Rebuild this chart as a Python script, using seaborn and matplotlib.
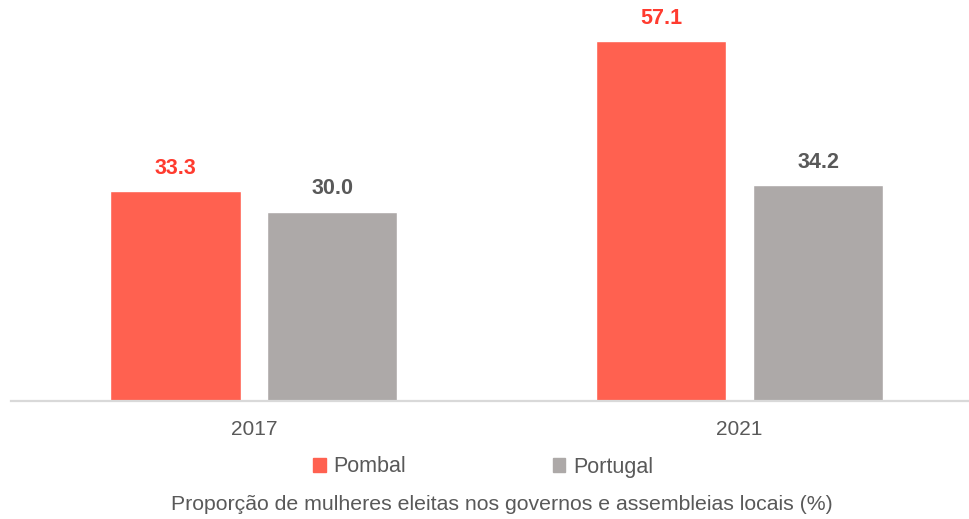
import matplotlib
matplotlib.use("Agg")
import matplotlib.pyplot as plt
import seaborn as sns
import pandas as pd

years = ["2017", "2021"]
regions = ["Pombal", "Portugal"]
pombal = [33.3, 57.1]
portugal = [30.0, 34.2]

colors = {"Pombal": "#FF6150", "Portugal": "#ADA9A8"}
label_colors = {"Pombal": "#FF3B2F", "Portugal": "#595959"}

df = pd.DataFrame({
    "ano": years * 2,
    "regiao": ["Pombal"] * len(years) + ["Portugal"] * len(years),
    "valor": pombal + portugal,
})

sns.set_theme(style="white")
plt.rcParams["font.family"] = ["Liberation Sans", "DejaVu Sans"]

fig = plt.figure(figsize=(9.69, 5.19), dpi=100)
ax = fig.add_axes([11 / 969, 118.5 / 519, 957 / 969, 390 / 519])

sns.barplot(data=df, x="ano", y="valor", hue="regiao", hue_order=regions,
            palette=colors, width=0.646, gap=0.17, ax=ax, legend=False,
            saturation=1, errorbar=None)

ax.set_xlim(-0.5, 1.47)
ax.set_ylim(0, 62)

for cont, reg in zip(ax.containers, regions):
    ax.bar_label(cont, labels=[f"{v:.1f}" for v in cont.datavalues],
                 padding=9, color=label_colors[reg], fontsize=15.5,
                 fontweight="bold")

for side in ["top", "right", "left"]:
    ax.spines[side].set_visible(False)
ax.spines["bottom"].set_color("#D9D9D9")
ax.spines["bottom"].set_linewidth(1.6)
ax.set_yticks([])
ax.set_xlabel("")
ax.set_ylabel("")
ax.tick_params(axis="x", length=0, labelsize=15, labelcolor="#595959", pad=14)

handles = [plt.Rectangle((0, 0), 1, 1, color=colors[r]) for r in regions]
fig.legend(handles, regions, loc="center", bbox_to_anchor=(483 / 969, 1 - 467 / 519),
           ncol=2, frameon=False, fontsize=15.5, handlelength=0.6, handleheight=0.6,
           handletextpad=0.35, columnspacing=6.8, labelcolor="#595959")

fig.text(502 / 969, 1 - 505 / 519,
         "Proporção de mulheres eleitas nos governos e assembleias locais (%)",
         ha="center", va="center", fontsize=15.3, color="#595959")

fig.savefig("out.png", dpi=100)
